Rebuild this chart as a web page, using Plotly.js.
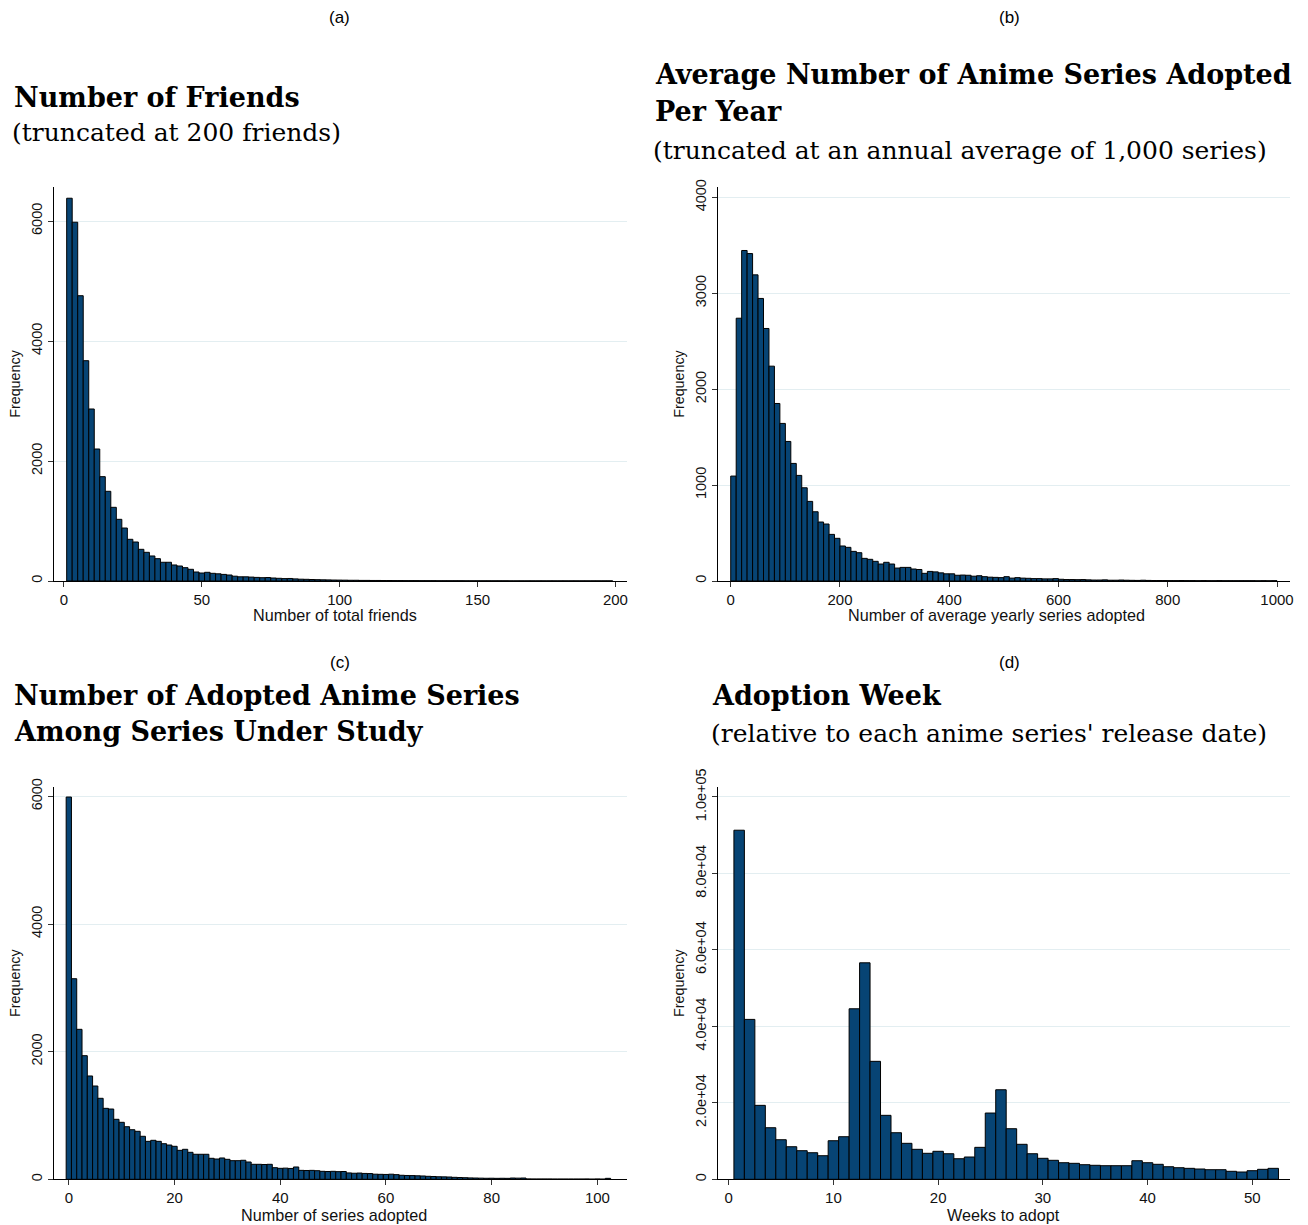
<!DOCTYPE html>
<html>
<head>
<meta charset="utf-8">
<script src="https://cdn.plot.ly/plotly-3.0.1.min.js"></script>
<style>html,body{margin:0;padding:0;background:#fff;}#chart{width:1308px;height:1225px;}</style>
</head>
<body>
<div id="chart"></div>
<script>
// ---------- DATA ----------
// (a) Number of friends: bins of width 2 starting at 1
const friendsBinStart = 1;
const friendsBinWidth = 2;
const friendsFreq = [6380,5980,4755,3672,2867,2200,1739,1495,1228,1028,883,695,650,528,478,417,372,312,312,267,250,222,195,150,133,145,128,120,110,100,80,70,70,65,
  60,55,58,50,45,40,42,35,30,28,
  25,22,20,18,16,15,14,12,12,10,
  10,9,9,8,8,7,7,6,6,6,
  5,5,5,4,4,4,4,4,3,3,
  3,3,3,3,3,3,2,2,2,2,
  2,2,2,2,2,2,2,2,2,2,
  2,2,2,2,2];

// (b) Average yearly series adopted: bins of width 10 starting at 0
const yearlyBinStart = 0;
const yearlyBinWidth = 10;
const yearlyFreq = [1094,2740,3446,3414,3192,2946,2633,2240,1851,1643,1455,1226,1101,972,830,722,615,594,486,445,365,351,309,295,236,226,205,177,195,177,135,142,142,125,
  120,80,100,95,85,75,75,60,62,60,
  50,55,45,40,38,35,45,30,35,30,
  28,25,25,22,22,25,18,15,15,14,
  15,12,10,10,12,8,8,10,8,7,
  6,8,6,5,5,5,4,4,5,4,
  4,3,4,3,3,4,3,3,3,3,
  3,3,2,3,2,3];

// (c) Number of adopted series under study: one bin per integer from 0
const adoptedBinStart = -0.5;
const adoptedBinWidth = 1;
const adoptedFreq = [5990,3143,2350,1937,1619,1462,1269,1112,1101,940,893,824,777,752,674,595,611,595,558,537,517,454,470,423,392,392,392,329,318,334,313,292,292,298,271,235,
  235,232,235,182,172,175,170,193,140,138,140,135,125,122,
  125,120,122,100,95,98,92,90,80,78,
  76,80,73,63,60,58,55,52,47,44,
  40,38,36,31,28,25,22,20,18,16,
  17,15,16,15,20,18,20,6,5,5,
  5,5,4,4,4,4,4,4,5,3,
  5,3,15];

// (d) Adoption week: one bin per week 1..52
const weekBinStart = 0.5;
const weekBinWidth = 1;
const weekFreq = [91300,41820,19340,13490,10350,8520,7480,6950,6170,10090,
  11140,44600,56620,30850,16730,12180,9410,7840,6800,7320,
  6690,5380,5830,8360,17330,23420,13230,9150,6690,5490,
  4970,4340,4180,3820,3660,3560,3560,3560,4860,4340,
  3920,3290,3030,2870,2690,2510,2510,2090,1910,2250,
  2610,2870];

const weekTickVals = [0,20000,40000,60000,80000,100000];
const weekTickText = ["0","2.0e+04","4.0e+04","6.0e+04","8.0e+04","1.0e+05"];

// ---------- HELPERS ----------
function centers(start, width, n){ const a=[]; for(let i=0;i<n;i++) a.push(start + width*(i+0.5)); return a; }

const W = 1308, H = 1225;
const px = v => v / W;
const py = v => 1 - v / H;

const barColor = '#074474';
function barTrace(x, y, w, xa, ya){
  return {type:'bar', x:x, y:y, width:w, xaxis:xa, yaxis:ya,
    marker:{color:barColor, line:{color:'#000', width:1}}, hoverinfo:'x+y', showlegend:false};
}

const traces = [
  barTrace(centers(friendsBinStart, friendsBinWidth, friendsFreq.length), friendsFreq, friendsBinWidth, 'x', 'y'),
  barTrace(centers(yearlyBinStart, yearlyBinWidth, yearlyFreq.length), yearlyFreq, yearlyBinWidth, 'x2', 'y2'),
  barTrace(centers(adoptedBinStart, adoptedBinWidth, adoptedFreq.length), adoptedFreq, adoptedBinWidth, 'x3', 'y3'),
  barTrace(centers(weekBinStart, weekBinWidth, weekFreq.length), weekFreq, weekBinWidth, 'x4', 'y4')
];

const sans = 'Liberation Sans, Arial, sans-serif';
const tickFont = {family:sans, size:15, color:'#111'};
const ytickFont = {family:sans, size:14.5, color:'#111'};
const ytitleFont = {family:sans, size:14.3, color:'#111'};
const xtitleFont = {family:sans, size:16.2, color:'#111'};
function xax(domain, range, dtick, anchor){
  return {domain:domain, range:range, dtick:dtick, tick0:0, anchor:anchor,
    showline:true, linecolor:'#000', linewidth:1, ticks:'outside', ticklen:5, tickcolor:'#333', tickwidth:1,
    showgrid:false, zeroline:false, tickfont:tickFont};
}
function yax(domain, range, anchor, extra){
  return Object.assign({domain:domain, range:range, anchor:anchor,
    showline:true, linecolor:'#000', linewidth:1, ticks:'outside', ticklen:5, tickcolor:'#333', tickwidth:1,
    showgrid:true, gridcolor:'#e3eef1', gridwidth:1, zeroline:false, tickfont:ytickFont, tickangle:-90,
    title:{text:'Frequency', font:ytitleFont, standoff:5}}, extra);
}

const topY = [py(581), py(187)];
const botY = [py(1179.3), py(787)];
const leftX = [px(54), px(627)];
const rightX = [px(718), px(1290)];

const serifBold = {family:'DejaVu Serif, serif', size:27, color:'#000', weight:'bold'};
const serifReg = {family:'DejaVu Serif, serif', size:25, color:'#000'};
const labFont = {family:sans, size:17, color:'#000'};

function ann(text, x, y, font, xanchor){
  return {text:text, x:px(x), y:py(y), xref:'paper', yref:'paper', xanchor:xanchor||'left', yanchor:'middle', showarrow:false, font:font};
}

const layout = {
  width:W, height:H, margin:{l:0,r:0,t:0,b:0},
  paper_bgcolor:'#fff', plot_bgcolor:'#fff', bargap:0, showlegend:false,
  xaxis: xax(leftX, [-3.6, 204.2], 50, 'y'),
  yaxis: yax(topY, [0, 6567], 'x', {dtick:2000}),
  xaxis2: xax(rightX, [-23.3, 1023.8], 200, 'y2'),
  yaxis2: yax(topY, [0, 4108], 'x2', {dtick:1000}),
  xaxis3: xax(leftX, [-2.8, 105.6], 20, 'y3'),
  yaxis3: yax(botY, [0, 6147], 'x3', {dtick:2000}),
  xaxis4: xax(rightX, [-1.02, 53.6], 10, 'y4'),
  yaxis4: yax(botY, [0, 102600], 'x4', {tickmode:'array', tickvals:weekTickVals, ticktext:weekTickText}),
  annotations: [
    ann('(a)', 340, 18, labFont, 'center'),
    ann('(b)', 1009, 18, labFont, 'center'),
    ann('(c)', 340, 662, labFont, 'center'),
    ann('(d)', 1009, 662, labFont, 'center'),
    ann('Number of total friends', 335, 615, xtitleFont, 'center'),
    ann('Number of average yearly series adopted', 996, 615, xtitleFont, 'center'),
    ann('Number of series adopted', 334, 1215, xtitleFont, 'center'),
    ann('Weeks to adopt', 1003, 1215, xtitleFont, 'center'),
    ann('<b>Number of Friends</b>', 12, 97, serifBold),
    ann('(truncated at 200 friends)', 10, 133, serifReg),
    ann('<b>Average Number of Anime Series Adopted</b>', 653, 75, serifBold),
    ann('<b>Per Year</b>', 653, 112, serifBold),
    ann('(truncated at an annual average of 1,000 series)', 651, 150, serifReg),
    ann('<b>Number of Adopted Anime Series</b>', 12, 695, serifBold),
    ann('<b>Among Series Under Study</b>', 12, 732, serifBold),
    ann('<b>Adoption Week</b>', 710, 695, serifBold),
    ann("(relative to each anime series' release date)", 709, 733, serifReg)
  ]
};

Plotly.newPlot('chart', traces, layout, {staticPlot:true, displayModeBar:false});
</script>
</body>
</html>
